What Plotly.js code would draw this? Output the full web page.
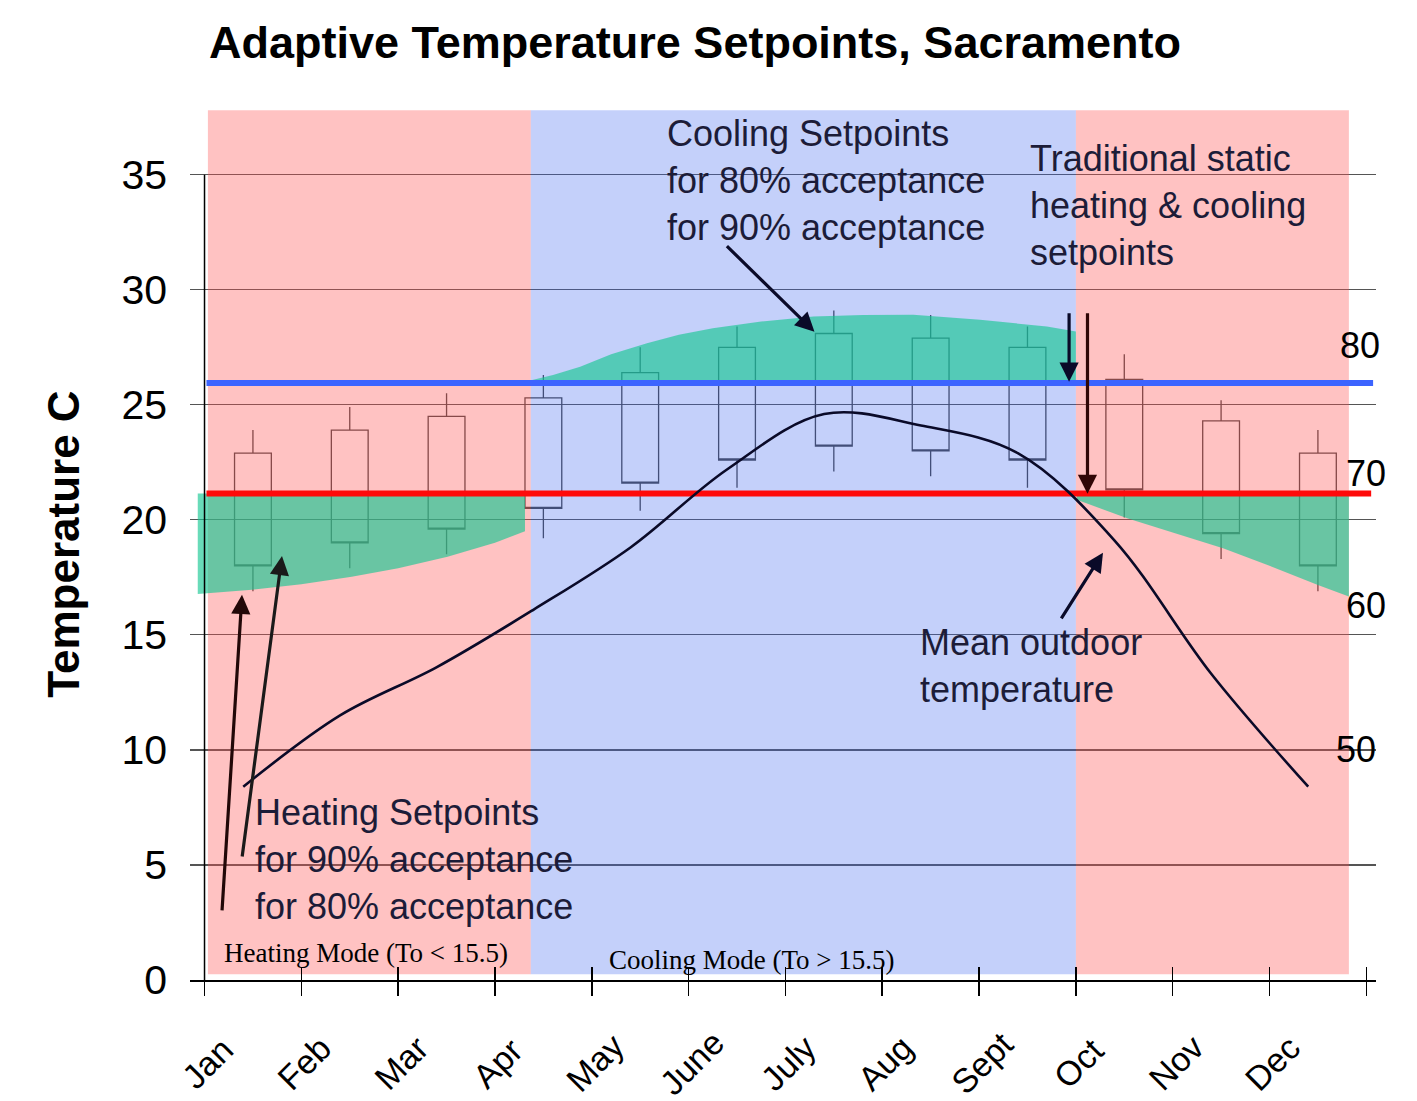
<!DOCTYPE html>
<html>
<head>
<meta charset="utf-8">
<script src="https://cdn.plot.ly/plotly-3.0.1.min.js"></script>
<style>html,body{margin:0;padding:0;background:#fff;}#chart{width:1417px;height:1101px;}</style>
</head>
<body>
<div id="chart"></div>
<script>
// ---------- data ----------
const months = ['Jan','Feb','Mar','Apr','May','June','July','Aug','Sept','Oct','Nov','Dec'];
// adaptive setpoint bars (deg C): whisker high, box top, box bottom, whisker low
const setHigh   = [23.9, 24.9, 25.5, 26.3, 27.5, 28.4, 29.1, 28.9, 28.4, 27.2, 25.2, 23.9];
const setTop    = [22.9, 23.9, 24.5, 25.3, 26.4, 27.5, 28.1, 27.9, 27.5, 26.1, 24.3, 22.9];
const setBottom = [18.0, 19.0, 19.6, 20.5, 21.6, 22.6, 23.2, 23.0, 22.6, 21.3, 19.4, 18.0];
const setLow    = [16.9, 17.9, 18.5, 19.2, 20.4, 21.4, 22.1, 21.9, 21.4, 20.1, 18.3, 16.9];
// mean outdoor temperature (deg C)
const meanOutdoor = [8.4, 11.5, 13.6, 16.1, 18.8, 22.2, 24.6, 24.1, 22.9, 19.1, 13.3, 8.4];
// traditional static setpoints (deg C)
const staticCooling = 25.95;
const staticHeating = 21.15;
// mode periods (in months from Jan 1)
const heatingSpans = [[0.035, 3.37], [9.0, 11.82]];
const coolingSpans = [[3.37, 9.0]];
const modeLow = 0.25, modeHigh = 37.8;
// adaptive comfort bands
const heatBandAX = [-0.07, 0.49, 1.0, 1.52, 2.0, 2.51, 3.0, 3.31];
const heatBandALow = [16.78, 16.96, 17.2, 17.53, 17.9, 18.40, 19.0, 19.5];
const heatBandBX = [9.01, 9.53, 10.0, 10.52, 11.0, 11.5, 11.82];
const heatBandBLow = [20.87, 20.07, 19.45, 18.77, 18.0, 17.17, 16.67];
const coolBandX = [3.31, 3.6, 3.88, 4.2, 4.57, 4.9, 5.25, 5.75, 6.29, 6.8, 7.32, 8.01, 8.7, 9.0];
const coolBandHigh = [26.0, 26.3, 26.65, 27.2, 27.68, 28.05, 28.33, 28.62, 28.84, 28.9, 28.91, 28.7, 28.4, 28.19];
// Fahrenheit reference labels
const fLabels = ['80', '70', '60', '50'];
const fLabelY = [27.57, 22.0, 16.26, 10.0];
const fLabelX = [11.93, 12.0, 12.0, 11.89];
const yTicks = [0, 5, 10, 15, 20, 25, 30, 35];
const monthStarts = [0,1,2,3,4,5,6,7,8,9,10,11,12];

// ---------- helpers ----------
const FONT = 'Liberation Sans, Arial, Helvetica, sans-serif';
const SERIF = 'Liberation Serif, Times New Roman, serif';
const TXT = '#1c1c38';
const centers = months.map((m, i) => i + 0.5);
const meanX = months.map((m, i) => i + 0.4);

function spanTrace(span, color) {
  return {
    type: 'scatter', mode: 'none', fill: 'toself', fillcolor: color,
    x: [span[0], span[1], span[1], span[0], span[0]],
    y: [modeLow, modeLow, modeHigh, modeHigh, modeLow],
    hoverinfo: 'skip', showlegend: false
  };
}
function bandTrace(xs, lows, highs, color) {
  const x = xs.concat(xs.slice().reverse());
  const y = highs.concat(lows.slice().reverse());
  x.push(xs[0]); y.push(highs[0]);
  return { type: 'scatter', mode: 'none', fill: 'toself', fillcolor: color, x, y,
           hoverinfo: 'skip', showlegend: false };
}

const traces = [];
heatingSpans.forEach(s => traces.push(spanTrace(s, 'rgba(255,80,80,0.35)')));
coolingSpans.forEach(s => traces.push(spanTrace(s, 'rgba(60,100,240,0.30)')));

const GREEN = 'rgba(20,198,145,0.64)';
traces.push(bandTrace(heatBandAX, heatBandALow, heatBandAX.map(() => staticHeating), GREEN));
traces.push(bandTrace(heatBandBX, heatBandBLow, heatBandBX.map(() => staticHeating), GREEN));
traces.push(bandTrace(coolBandX, coolBandX.map(() => staticCooling), coolBandHigh, GREEN));

// static setpoint lines
traces.push({ type: 'scatter', mode: 'lines', x: [0.02, 12.07], y: [staticCooling, staticCooling],
  line: {color: '#3c64ff', width: 6}, hoverinfo: 'skip', showlegend: false });
traces.push({ type: 'scatter', mode: 'lines', x: [0.02, 12.05], y: [staticHeating, staticHeating],
  line: {color: '#ff0a0a', width: 6}, hoverinfo: 'skip', showlegend: false });

// setpoint range boxes
traces.push({
  type: 'box', x: centers, q1: setBottom, median: setBottom, q3: setTop,
  lowerfence: setLow, upperfence: setHigh, width: 0.38, whiskerwidth: 0,
  line: {color: '#454545', width: 1.3}, fillcolor: 'rgba(0,0,0,0)',
  boxpoints: false, hoverinfo: 'skip', showlegend: false
});

// mean outdoor temperature
traces.push({ type: 'scatter', mode: 'lines', x: meanX, y: meanOutdoor,
  line: {color: '#0a0a28', width: 2.6, shape: 'spline', smoothing: 1}, hoverinfo: 'skip', showlegend: false });

// dummy trace for the inner tick axis
traces.push({ type: 'scatter', x: [null], y: [null], xaxis: 'x2', yaxis: 'y', hoverinfo: 'skip', showlegend: false });

// ---------- annotations ----------
const ann = [];
months.forEach((m, i) => ann.push({
  text: m, xref: 'x', yref: 'paper', x: monthStarts[i] + 0.03, y: 0, yshift: -83,
  xanchor: 'center', yanchor: 'middle', textangle: -45, showarrow: false,
  font: {family: FONT, size: 34, color: '#000'}
}));
fLabels.forEach((t, i) => ann.push({
  text: t, xref: 'x', yref: 'y', x: fLabelX[i], y: fLabelY[i], xanchor: 'center', yanchor: 'middle',
  showarrow: false, font: {family: FONT, size: 36, color: '#000'}
}));
const blocks = [
  {text: 'Cooling Setpoints<br>for 80% acceptance<br>for 90% acceptance', x: 4.757, y: 34.74},
  {text: 'Traditional static<br>heating &amp; cooling<br>setpoints', x: 8.507, y: 33.65},
  {text: 'Mean outdoor<br>temperature', x: 7.37, y: 13.65},
  {text: 'Heating Setpoints<br>for 90% acceptance<br>for 80% acceptance', x: 0.504, y: 5.22}
];
blocks.forEach(b => ann.push({
  text: b.text, xref: 'x', yref: 'y', x: b.x, y: b.y, xanchor: 'left', yanchor: 'middle', align: 'left',
  showarrow: false, font: {family: FONT, size: 36, color: TXT}
}));
ann.push({ text: 'Heating Mode (To &lt; 15.5)', xref: 'x', yref: 'y', x: 0.18, y: 1.17, xanchor: 'left', yanchor: 'middle',
  showarrow: false, font: {family: SERIF, size: 27, color: '#000'} });
ann.push({ text: 'Cooling Mode (To &gt; 15.5)', xref: 'x', yref: 'y', x: 4.16, y: 0.87, xanchor: 'left', yanchor: 'middle',
  showarrow: false, font: {family: SERIF, size: 27, color: '#000'} });

// arrows: [tipX, tipY, tailX, tailY, color]
const arrows = [
  [0.387, 16.74, 0.18, 2.96, '#220808'],
  [0.80, 18.43, 0.387, 5.30, '#1a1a1a'],
  [6.30, 28.17, 5.38, 31.96, '#0a0a28'],
  [8.93, 26.0, 8.93, 29.04, '#0a0a28'],
  [9.12, 21.13, 9.12, 29.04, '#300606'],
  [9.28, 18.57, 8.84, 15.65, '#0a0a28']
];
arrows.forEach(a => ann.push({
  text: '', xref: 'x', yref: 'y', axref: 'x', ayref: 'y', x: a[0], y: a[1], ax: a[2], ay: a[3],
  showarrow: true, arrowhead: 2, arrowsize: 1.2, arrowwidth: 3.2, arrowcolor: a[4], standoff: 0
}));

// ---------- layout ----------
const layout = {
  width: 1417, height: 1101,
  margin: {l: 190, r: 41, t: 108, b: 121, pad: 0},
  paper_bgcolor: '#ffffff', plot_bgcolor: '#ffffff',
  font: {family: FONT, color: '#000'},
  showlegend: false,
  title: {text: '<b>Adaptive Temperature Setpoints, Sacramento</b>', x: 0.4905, xanchor: 'center',
          y: 0.962, yanchor: 'middle', font: {family: FONT, size: 45, color: '#000'}},
  xaxis: {range: [-0.15, 12.1], tickvals: monthStarts, ticktext: monthStarts.map(() => ''),
          showticklabels: false, ticks: 'outside', ticklen: 14, tickwidth: 1.5, tickcolor: '#000',
          showgrid: false, zeroline: false, showline: true, linecolor: '#000', linewidth: 1.5,
          fixedrange: true, automargin: false},
  xaxis2: {range: [-0.15, 12.1], overlaying: 'x', anchor: 'y', side: 'bottom', tickvals: monthStarts,
           showticklabels: false, ticks: 'inside', ticklen: 13, tickwidth: 1.5, tickcolor: '#000',
           showgrid: false, zeroline: false, showline: false, fixedrange: true, automargin: false},
  yaxis: {range: [0, 37.9], tickvals: yTicks, ticks: '', ticklabelstandoff: 22,
          tickfont: {family: FONT, size: 41, color: '#000'},
          showgrid: true, gridcolor: '#555', gridwidth: 1.2, zeroline: false, showline: false,
          title: {text: '<b>Temperature C</b>', font: {family: FONT, size: 44, color: '#000'}, standoff: 27},
          fixedrange: true, automargin: false},
  shapes: [
    {type: 'line', xref: 'x', yref: 'y', x0: 0, x1: 0, y0: 0, y1: 35, line: {color: '#000', width: 1.5}, layer: 'above'}
  ],
  annotations: ann
};

Plotly.newPlot('chart', traces, layout, {displayModeBar: false, staticPlot: true});
</script>
</body>
</html>
